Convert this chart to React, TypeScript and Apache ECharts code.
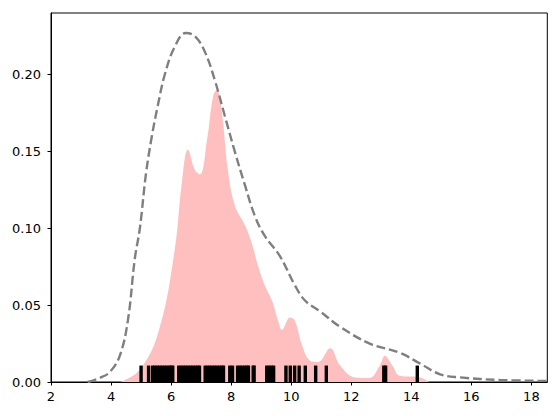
import React, { useEffect, useRef } from "react";
import * as echarts from "echarts";

// Wide-bandwidth density (dashed grey line): [x, density]
const broadX = [3.22, 3.62, 3.96, 4.29, 4.56, 4.79, 4.96, 5.16, 5.36, 5.56, 5.79, 6.12, 6.49, 6.79, 7.12, 7.46, 7.79, 8.12, 8.46, 8.79, 9.12, 9.62, 10.12, 10.46, 10.96, 11.62, 12.62, 13.62, 14.29, 14.96, 15.62, 16.96, 18.56];
const broadY = [0, 0.0026, 0.0065, 0.017, 0.04, 0.08, 0.1, 0.135, 0.16, 0.18, 0.2, 0.218, 0.227, 0.225, 0.215, 0.196, 0.173, 0.15, 0.128, 0.108, 0.095, 0.082, 0.063, 0.053, 0.046, 0.036, 0.025, 0.019, 0.012, 0.005, 0.003, 0.0013, 0.0007];

// Narrow-bandwidth density (pink filled area)
const fineX = [4.3, 4.96, 5.6, 6.12, 6.36, 6.56, 6.79, 6.96, 7.2, 7.4, 7.52, 7.68, 7.89, 8.12, 8.46, 8.66, 8.89, 9.12, 9.36, 9.56, 9.69, 9.96, 10.12, 10.36, 10.62, 10.89, 11.3, 11.62, 12.12, 12.6, 12.96, 13.12, 13.36, 13.62, 14.29, 14.6];
const fineY = [0, 0.008, 0.034, 0.086, 0.13, 0.151, 0.138, 0.135, 0.158, 0.186, 0.19, 0.177, 0.138, 0.115, 0.102, 0.092, 0.076, 0.063, 0.053, 0.04, 0.034, 0.042, 0.04, 0.024, 0.014, 0.013, 0.022, 0.011, 0.003, 0.0026, 0.011, 0.017, 0.011, 0.004, 0.003, 0];

// Rug observations
const rugX = [
  5.0, 5.25,
  5.385, 5.46, 5.54, 5.62, 5.7, 5.78, 5.86, 5.94, 6.0, 6.055,
  6.255, 6.33, 6.41, 6.49, 6.57, 6.65, 6.73, 6.81, 6.89, 6.945,
  7.135, 7.21, 7.29, 7.37, 7.45, 7.53, 7.61, 7.69, 7.745,
  7.955, 8.045,
  8.215, 8.29, 8.37, 8.45, 8.53, 8.575,
  8.735, 8.765,
  9.185, 9.26, 9.34, 9.415,
  9.825, 9.97, 10.115, 10.265, 10.47, 10.815, 11.17,
  13.085, 13.145,
  14.2,
];
const RUG_H = 0.0107;

const xTicks = [2, 4, 6, 8, 10, 12, 14, 16, 18];
const yTicks = [0, 0.05, 0.1, 0.15, 0.2];

export default function App() {
  const ref = useRef<HTMLDivElement>(null);
  useEffect(() => {
    const chart = echarts.init(ref.current!, undefined, { renderer: "svg" });
    const font = "DejaVu Sans";
    chart.setOption({
      animation: false,
      grid: { left: 51, top: 13, right: 12.7, bottom: 34, show: true, borderColor: "#000", borderWidth: 1, backgroundColor: "transparent" },
      xAxis: {
        type: "value", min: 2, max: 18.53,
        axisLine: { show: true, onZero: false, lineStyle: { color: "#000", width: 1 } },
        splitLine: { show: false },
        axisTick: { show: true, length: 3.5, lineStyle: { color: "#000" }, customValues: xTicks },
        axisLabel: { color: "#000", fontFamily: font, fontSize: 13, margin: 8, customValues: xTicks, formatter: (v: number) => String(v) },
      },
      yAxis: {
        type: "value", min: 0, max: 0.24,
        axisLine: { show: true, lineStyle: { color: "#000", width: 1 } },
        splitLine: { show: false },
        axisTick: { show: true, length: 3.5, lineStyle: { color: "#000" }, customValues: yTicks },
        axisLabel: { color: "#000", fontFamily: font, fontSize: 13, margin: 10, customValues: yTicks, formatter: (v: number) => v.toFixed(2) },
      },
      series: [
        {
          type: "line", data: fineX.map((x, i) => [x, fineY[i]]), smooth: 0.4, symbol: "none",
          lineStyle: { width: 0 }, areaStyle: { color: "#ffbfbf", opacity: 1 }, z: 1,
        },
        {
          type: "custom", z: 2,
          data: rugX.map((x) => [x]),
          renderItem: (_p: any, api: any) => {
            const x = api.value(0);
            const p0 = api.coord([x, 0]);
            const p1 = api.coord([x, RUG_H]);
            return { type: "rect", shape: { x: p0[0] - 1.7, y: p1[1], width: 3.4, height: p0[1] - p1[1] }, style: { fill: "#000" } };
          },
        },
        {
          type: "line", data: broadX.map((x, i) => [x, broadY[i]]), smooth: 0.4, symbol: "none", z: 3,
          lineStyle: { color: "#7f7f7f", width: 2.4, type: [9, 3.9] },
        },
      ],
    });
    return () => chart.dispose();
  }, []);
  return <div ref={ref} style={{ width: 560, height: 416, position: "absolute", left: 0, top: 0 }} />;
}
